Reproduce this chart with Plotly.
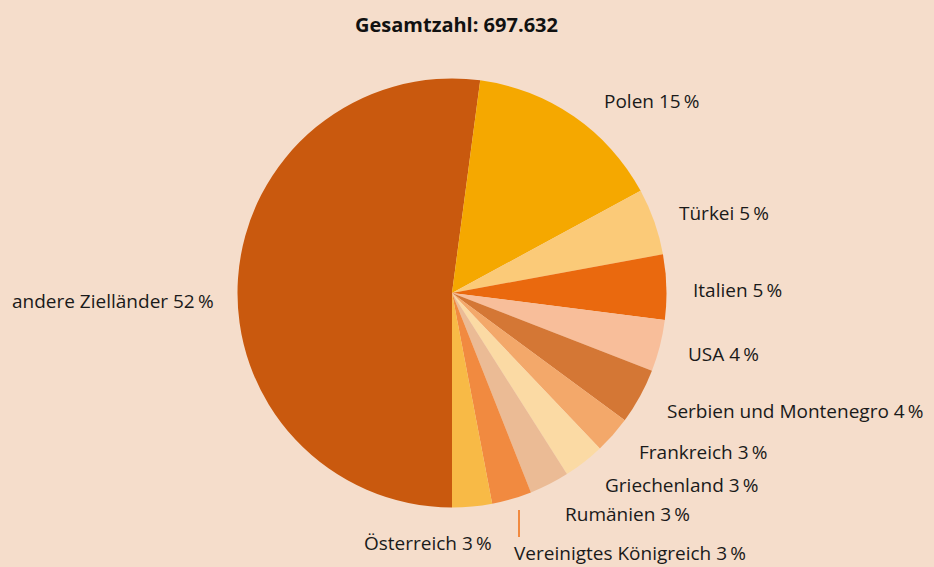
import plotly.graph_objects as go

W, H = 934, 567

countries = ["andere Zielländer", "Polen", "Türkei", "Italien", "USA",
             "Serbien und Montenegro", "Frankreich", "Griechenland",
             "Rumänien", "Vereinigtes Königreich", "Österreich"]
shares = [52.1, 15.0, 5.0, 4.9, 3.9, 4.2, 2.8, 3.1, 3.0, 3.0, 3.0]
shown_pct = [52, 15, 5, 5, 4, 4, 3, 3, 3, 3, 3]
colors = ["#C9590E", "#F5A800", "#FBCA78", "#EA690E", "#F8BE9A",
          "#D47735", "#F3A86A", "#FBDAA4", "#EBBB95", "#F18A40", "#F8BA46"]
total_label = "Gesamtzahl: 697.632"

# label anchor positions in pixels (left edge, vertical centre)
label_pos = [(10, 301), (602, 101), (677, 213), (691, 290), (686, 354),
             (665, 411), (637, 452), (603, 485), (563, 514), (512, 553),
             (362, 543)]

def px(x):
    return x / W

def py(y):
    return 1 - y / H

cx, cy, r = 452, 293, 214.5

fig = go.Figure(go.Pie(
    labels=countries, values=shares, sort=False, direction="clockwise",
    rotation=180, marker=dict(colors=colors, line=dict(width=0)),
    textinfo="none", hoverinfo="label+percent", showlegend=False,
    domain=dict(x=[px(cx - r), px(cx + r)], y=[py(cy + r), py(cy - r)]),
))

annotations = []
for name, pct, (lx, ly) in zip(countries, shown_pct, label_pos):
    annotations.append(dict(
        text=f"{name} {pct}\u2009%", x=px(lx), y=py(ly), xref="paper", yref="paper",
        xanchor="left", yanchor="middle", showarrow=False,
        font=dict(family="Open Sans", size=19, color="#1a1a1a")))
annotations.append(dict(
    text=f"<b>{total_label}</b>", x=px(456), y=py(24), xref="paper", yref="paper",
    xanchor="center", yanchor="middle", showarrow=False,
    font=dict(family="Open Sans", size=20, color="#111111")))

fig.update_layout(
    width=W, height=H, autosize=False,
    margin=dict(l=0, r=0, t=0, b=0),
    paper_bgcolor="#F5DDCB", plot_bgcolor="#F5DDCB",
    annotations=annotations,
    shapes=[dict(type="line", xref="paper", yref="paper",
                 x0=px(519), x1=px(519), y0=py(510), y1=py(537),
                 line=dict(color="#F18A40", width=2))],
)

fig.write_html("out.html", config={"displayModeBar": False},
               post_script="document.body.style.margin='0';document.body.style.background='#F5DDCB';")
